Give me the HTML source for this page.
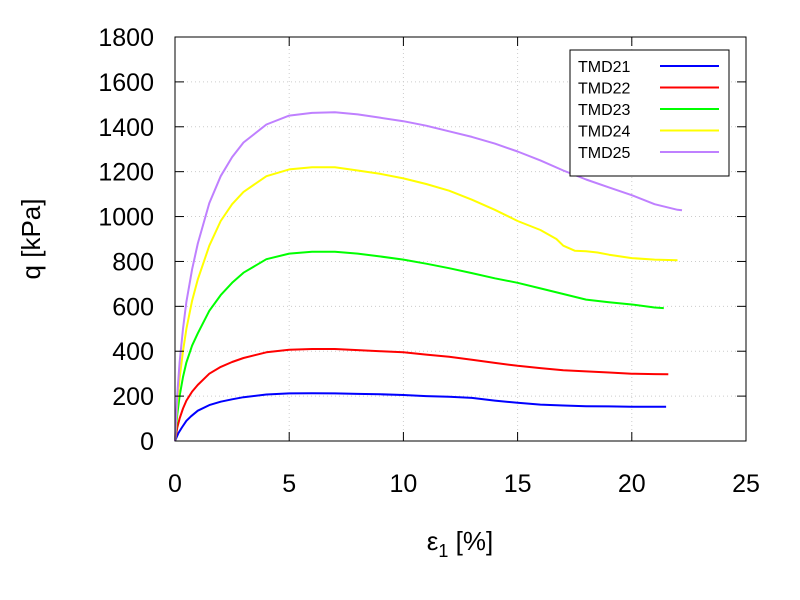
<!DOCTYPE html>
<html><head><meta charset="utf-8"><style>
body{margin:0;background:#fff;}
svg{display:block;font-family:"Liberation Sans",sans-serif;}
</style></head><body>
<svg id="chart" width="800" height="600">
<rect x="0" y="0" width="800" height="600" fill="#fff"/>
<g id="grid"></g>
<g id="series"></g>
<rect x="175" y="37" width="571" height="404" fill="none" stroke="#000" stroke-width="1"/>
<g id="ticks"></g>
<text x="40" y="239" font-size="26" text-anchor="middle" transform="rotate(-90 40 239)">q [kPa]</text>
<text x="460" y="550" font-size="26" text-anchor="middle">ε<tspan font-size="18" dy="7">1</tspan><tspan dy="-7"> [%]</tspan></text>
<g id="legend">
<rect x="570" y="50" width="159" height="126" fill="#fff" stroke="#000" stroke-width="1"/>
</g>
</svg>
<script>
const xTicks=[0,5,10,15,20,25];
const yTicks=[0,200,400,600,800,1000,1200,1400,1600,1800];
const names=["TMD21","TMD22","TMD23","TMD24","TMD25"];
const colors=["#0000ff","#ff0000","#00ff00","#ffff00","#bf80ff"];
const s21x=[0,0.15,0.3,0.5,0.7,1,1.5,2,2.5,3,4,5,6,7,8,9,10,11,12,13,14,15,16,17,18,19,20,21,21.5];
const s21y=[0,35,60,90,110,135,160,175,186,195,207,212,213,212,210,208,205,200,197,192,180,170,162,158,155,154,153,153,153];
const s22x=[0,0.1,0.2,0.35,0.5,0.75,1,1.5,2,2.5,3,4,5,6,7,8,9,10,11,12,13,14,15,16,17,18,19,20,21,21.6];
const s22y=[0,60,100,145,180,220,250,300,330,352,370,395,407,410,410,405,400,395,385,375,362,348,335,325,315,310,305,300,298,297];
const s23x=[0,0.1,0.2,0.35,0.5,0.75,1,1.5,2,2.5,3,4,5,6,7,8,9,10,11,12,13,14,15,16,17,18,19,20,21,21.4];
const s23y=[0,120,200,285,350,425,480,580,650,705,750,810,835,843,843,835,822,808,790,770,748,725,705,680,655,630,618,608,595,592];
const s24x=[0,0.1,0.2,0.35,0.5,0.75,1,1.5,2,2.5,3,4,5,6,7,8,9,10,11,12,13,14,15,16,16.7,17,17.5,18,18.5,19,20,21,22];
const s24y=[0,170,280,400,500,625,720,870,980,1055,1110,1180,1210,1220,1220,1205,1190,1170,1145,1115,1075,1030,980,940,900,870,848,845,840,830,815,808,805];
const s25x=[0,0.1,0.2,0.35,0.5,0.75,1,1.5,2,2.5,3,4,5,6,7,8,9,10,11,12,13,14,15,16,17,18,19,20,21,22,22.2];
const s25y=[0,210,350,500,620,765,880,1060,1180,1265,1330,1410,1450,1462,1465,1455,1440,1425,1405,1380,1355,1325,1290,1250,1205,1165,1130,1095,1055,1030,1028];
const seriesX=[s21x,s22x,s23x,s24x,s25x];
const seriesY=[s21y,s22y,s23y,s24y,s25y];
const NS="http://www.w3.org/2000/svg";
const X=v=>175+v*(571/25);
const Y=v=>441-v*(404/1800);
function mk(tag,attrs,parent){const e=document.createElementNS(NS,tag);for(const k in attrs)e.setAttribute(k,attrs[k]);parent.appendChild(e);return e;}
const grid=document.getElementById('grid'),ticks=document.getElementById('ticks'),ser=document.getElementById('series'),leg=document.getElementById('legend');
xTicks.forEach(t=>{
 const g=mk('line',{x1:X(t),x2:X(t),y1:37,y2:441,stroke:'#ccc','stroke-dasharray':'1,3'},grid);
 
 
 const tk=mk('line',{x1:X(t),x2:X(t),y1:441,y2:432,stroke:'#000'},ticks);
 
 
 const tk2=mk('line',{x1:X(t),x2:X(t),y1:37,y2:46,stroke:'#000'},ticks);
 
 
 const l=mk('text',{x:X(t),y:492,'font-size':25,'text-anchor':'middle'},ticks);
 l.textContent=t;
 
 
});
yTicks.forEach(t=>{
 const g=mk('line',{x1:175,x2:746,y1:Y(t),y2:Y(t),stroke:'#ccc','stroke-dasharray':'1,3'},grid);
 
 
 const tk=mk('line',{x1:175,x2:184,y1:Y(t),y2:Y(t),stroke:'#000'},ticks);
 
 
 const tk2=mk('line',{x1:737,x2:746,y1:Y(t),y2:Y(t),stroke:'#000'},ticks);
 
 
 const l=mk('text',{x:154,y:Y(t)+9,'font-size':25,'text-anchor':'end'},ticks);
 l.textContent=t;
 
 
});
seriesX.forEach((xs,i)=>{
 const d=xs.map((x,j)=>(j?'L':'M')+X(x).toFixed(1)+','+Y(seriesY[i][j]).toFixed(1)).join(' ');
 const p=mk('path',{d:d,fill:'none',stroke:colors[i],'stroke-width':2,'stroke-linejoin':'round'},ser);
 
 
 const yy=66+i*21.5;
 const t=mk('text',{x:578,y:yy+6,'font-size':16},leg);
 t.textContent=names[i];
 
 
 const ln=mk('line',{x1:660,x2:719,y1:yy,y2:yy,stroke:colors[i],'stroke-width':2},leg);
 
 
});
</script>
</body></html>
